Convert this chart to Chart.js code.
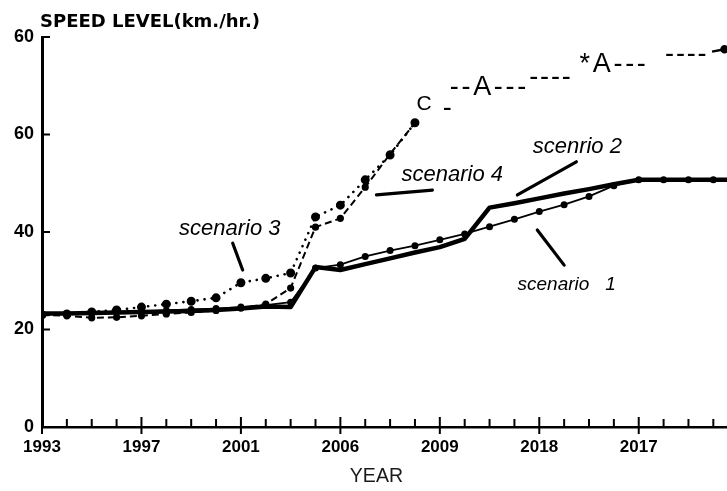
<!DOCTYPE html>
<html>
<head>
<meta charset="utf-8">
<script src="https://cdn.jsdelivr.net/npm/chart.js@4.4.1/dist/chart.umd.min.js"></script>
<style>
  html, body { margin: 0; padding: 0; background: #fff; }
  canvas { display: block; }
</style>
</head>
<body>
<canvas id="c" width="727" height="491"></canvas>
<script>
// ---- data ----
const yearIndex = [0,1,2,3,4,5,6,7,8,9,10,11,12,13,14,15,16,17,18,19,20,21,22,23,24,25,26,27,28];
const xTickLabels = ['1993','1997','2001','2006','2009','2018','2017'];
const yTickLabels = ['0','20','40','60','60'];

const scenario1 = [23.2,23.2,23.3,23.5,23.7,23.9,24.1,24.3,24.6,25.0,25.6,32.6,33.3,35.0,36.2,37.2,38.4,39.6,41.1,42.6,44.2,45.6,47.3,49.5,50.7,50.7,50.7,50.7,50.7];
const scenario2 = [23.3,23.3,23.4,23.5,23.6,23.7,23.8,24.0,24.3,24.7,24.6,32.8,32.2,33.4,34.6,35.8,36.9,38.6,45.0,45.9,46.9,47.9,48.8,49.8,50.7,50.7,50.7,50.7,50.7];
const scenario3 = [23.0,23.2,23.6,24.0,24.6,25.2,25.8,26.5,29.6,30.5,31.6,43.1,45.5,50.7,55.8,62.4];
const scenario4 = [23.0,22.8,22.4,22.5,22.8,23.2,23.5,23.9,24.4,25.2,28.5,41.0,42.8,49.2,56.0,62.4];
const tailIndex = [26.95, 27.45];
const tailValues = [77.0, 77.5];

// ---- annotations (data coordinates) ----
const topMarks = [
  {text:'C', i:15.06, v:66.3, size:21, spacing:0},
  {text:'-', i:16.12, v:65.3, size:27, spacing:0},
  {text:'--A---', i:16.4, v:69.6, size:27, spacing:2.7},
  {text:'----', i:19.6, v:71.6, size:27, spacing:1.8},
  {text:'*A---', i:21.62, v:74.3, size:27, spacing:2.7},
  {text:'----', i:25.06, v:76.4, size:27, spacing:1.8}
];
const scenarioLabels = [
  {text:'scenario 3', i:7.55, v:40.6, size:22},
  {text:'scenario 4', i:16.5, v:51.7, size:22},
  {text:'scenrio 2', i:21.53, v:57.4, size:22},
  {text:'scenario   1', i:21.1, v:29.1, size:19}
];
const arrows = [
  {i1:7.67, v1:37.7, i2:8.07, v2:32.2},
  {i1:15.7, v1:48.6, i2:13.45, v2:47.6},
  {i1:21.49, v1:54.4, i2:19.12, v2:47.6},
  {i1:19.92, v1:40.4, i2:21.0, v2:33.2}
];

function pts(values) {
  return values.map((y, k) => ({x: yearIndex[k], y}));
}

const annot = {
  id: 'annot',
  afterDatasetsDraw(chart) {
    const {ctx, scales:{x, y}} = chart;
    ctx.save();
    ctx.fillStyle = '#000';
    ctx.strokeStyle = '#000';
    scenarioLabels.forEach(l => {
      ctx.font = 'italic ' + l.size + 'px "Liberation Sans", Arial, sans-serif';
      ctx.textAlign = 'center';
      ctx.textBaseline = 'middle';
      ctx.fillText(l.text, x.getPixelForValue(l.i), y.getPixelForValue(l.v));
    });
    ctx.lineWidth = 3.2;
    ctx.lineCap = 'round';
    arrows.forEach(a => {
      ctx.beginPath();
      ctx.moveTo(x.getPixelForValue(a.i1), y.getPixelForValue(a.v1));
      ctx.lineTo(x.getPixelForValue(a.i2), y.getPixelForValue(a.v2));
      ctx.stroke();
    });
    topMarks.forEach(m => {
      ctx.font = m.size + 'px "Liberation Sans", Arial, sans-serif';
      ctx.textAlign = 'left';
      ctx.textBaseline = 'middle';
      ctx.letterSpacing = m.spacing + 'px';
      ctx.fillText(m.text, x.getPixelForValue(m.i), y.getPixelForValue(m.v));
    });
    ctx.letterSpacing = '0px';
    ctx.restore();
  },
  afterDraw(chart) {
    const {ctx, chartArea, scales:{x, y}} = chart;
    ctx.save();
    ctx.strokeStyle = '#000';
    ctx.fillStyle = '#000';
    ctx.lineWidth = 2;
    yearIndex.forEach(v => {
      if (v > x.max) return;
      const px = x.getPixelForValue(v);
      ctx.beginPath();
      if (v % 4 === 0) {
        ctx.moveTo(px, chartArea.bottom - 10);
        ctx.lineTo(px, chartArea.bottom + 7);
      } else {
        ctx.moveTo(px, chartArea.bottom - 8);
        ctx.lineTo(px, chartArea.bottom);
      }
      ctx.stroke();
    });
    [0,20,40,60,80].forEach(v => {
      const py = y.getPixelForValue(v);
      ctx.beginPath();
      ctx.moveTo(chartArea.left, py);
      ctx.lineTo(chartArea.left + 8, py);
      ctx.stroke();
    });
    ctx.font = 'bold 18px "DejaVu Sans", sans-serif';
    ctx.textAlign = 'left';
    ctx.textBaseline = 'middle';
    ctx.fillText('SPEED LEVEL(km./hr.)', chartArea.left - 2, chartArea.top - 15);
    ctx.font = '19.5px "Liberation Sans", Arial, sans-serif';
    ctx.fillStyle = '#1a1a1a';
    ctx.textAlign = 'center';
    ctx.fillText('YEAR', x.getPixelForValue(13.45), chartArea.bottom + 50);
    ctx.restore();
  }
};

Chart.defaults.font.family = '"Liberation Sans", Arial, sans-serif';
Chart.defaults.color = '#000';

new Chart(document.getElementById('c'), {
  type: 'line',
  data: {
    datasets: [
      {label:'scenario 1', data: pts(scenario1), borderColor:'#000', backgroundColor:'#000',
       borderWidth:1.8, pointRadius:2.6, pointHoverRadius:2.6, tension:0},
      {label:'scenario 2', data: pts(scenario2), borderColor:'#000', backgroundColor:'#000',
       borderWidth:4.5, pointRadius:0, tension:0, borderJoinStyle:'round'},
      {label:'scenario 3', data: pts(scenario3), borderColor:'#000', backgroundColor:'#000',
       borderWidth:2.6, borderDash:[0.1,7], borderCapStyle:'round', pointRadius:3.2, tension:0},
      {label:'scenario 4', data: pts(scenario4), borderColor:'#000', backgroundColor:'#000',
       borderWidth:2, borderDash:[7,4], pointRadius:2.6, tension:0},
      {label:'tail', data: tailIndex.map((x,k)=>({x, y: tailValues[k]})), borderColor:'#000', backgroundColor:'#000',
       borderWidth:2.5, pointRadius:[0,3], tension:0}
    ]
  },
  options: {
    responsive: false,
    animation: false,
    devicePixelRatio: 1,
    layout: { autoPadding: false, padding: { top: 37, right: 0, left: 0, bottom: 0 } },
    plugins: { legend: { display: false }, tooltip: { enabled: false }, title: { display: false } },
    scales: {
      x: {
        type: 'linear', min: 0, max: 27.55,
        afterBuildTicks: s => { s.ticks = yearIndex.filter(v => v <= 27).map(v => ({value: v})); },
        afterFit: s => { s.height = 64; s.paddingRight = 0; s.paddingLeft = 0; },
        grid: { display: false, drawTicks: false },
        border: { display: true, color: '#000', width: 2.5 },
        ticks: {
          autoSkip: false, maxRotation: 0, padding: 10,
          font: { size: 17, weight: 'bold' },
          callback: v => (v % 4 === 0 ? xTickLabels[v / 4] : '')
        }
      },
      y: {
        min: 0, max: 80,
        afterBuildTicks: s => { s.ticks = [0,20,40,60,80].map(v => ({value: v})); },
        afterFit: s => { s.width = 42; },
        grid: { display: false, drawTicks: false },
        border: { display: true, color: '#000', width: 3 },
        ticks: {
          padding: 8,
          font: { size: 18, weight: 'bold' },
          callback: (v, idx) => yTickLabels[idx]
        }
      }
    }
  },
  plugins: [annot]
});
</script>
</body>
</html>
